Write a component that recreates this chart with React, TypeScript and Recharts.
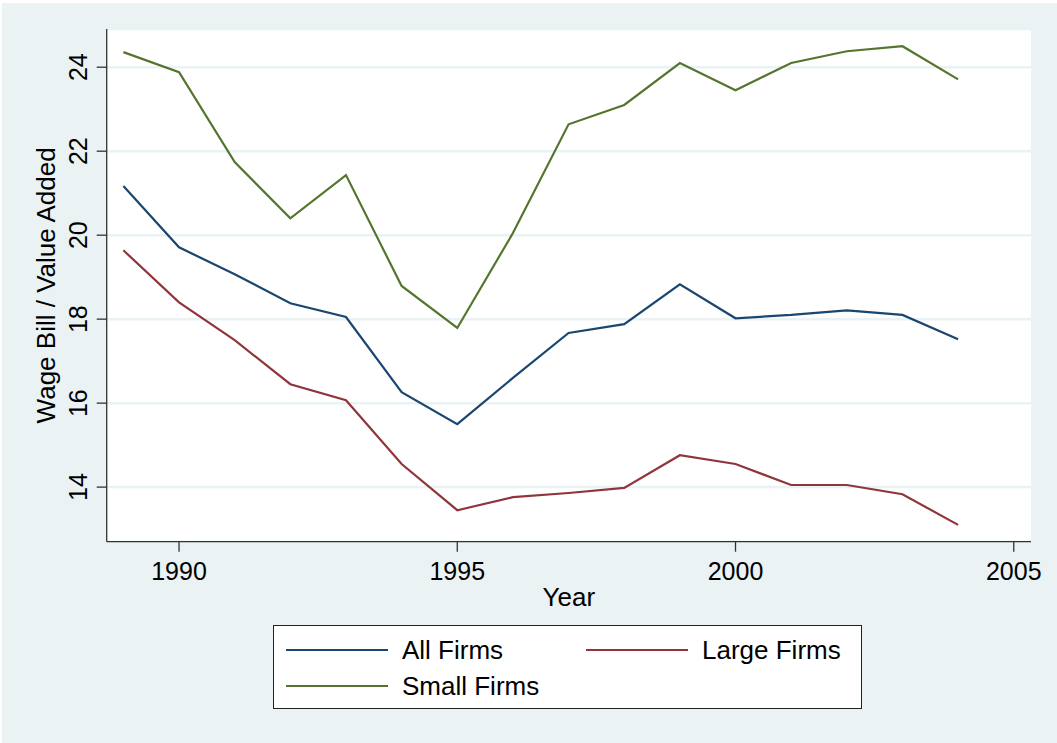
import React from 'react';
import { LineChart, Line, XAxis, YAxis, CartesianGrid } from 'recharts';

const years = [1989, 1990, 1991, 1992, 1993, 1994, 1995, 1996, 1997, 1998, 1999, 2000, 2001, 2002, 2003, 2004];
const allFirms = [21.17, 19.71, 19.07, 18.38, 18.05, 16.26, 15.5, 16.6, 17.67, 17.88, 18.83, 18.02, 18.1, 18.21, 18.1, 17.52];
const largeFirms = [19.64, 18.4, 17.5, 16.45, 16.07, 14.55, 13.45, 13.76, 13.86, 13.98, 14.76, 14.55, 14.05, 14.05, 13.83, 13.1];
const smallFirms = [24.36, 23.88, 21.74, 20.4, 21.43, 18.79, 17.79, 20.05, 22.64, 23.1, 24.1, 23.45, 24.1, 24.38, 24.5, 23.71];

const yTicks = [14, 16, 18, 20, 22, 24];
const xTicks = [1990, 1995, 2000, 2005];

const series = [
  { key: 'all', name: 'All Firms', color: '#1A476F', values: allFirms },
  { key: 'large', name: 'Large Firms', color: '#90353B', values: largeFirms },
  { key: 'small', name: 'Small Firms', color: '#55752F', values: smallFirms },
];

const chartData = years.map((year, i) => ({
  year,
  all: allFirms[i],
  large: largeFirms[i],
  small: smallFirms[i],
}));

const FONT = '"Liberation Sans", Arial, sans-serif';

const YTick = (props: any) => {
  const { x, y, payload } = props;
  return (
    <g transform={`translate(${x},${y})`}>
      <text transform="rotate(-90)" textAnchor="middle" dy={-10} fontSize={25} fill="#000" fontFamily={FONT}>
        {payload.value}
      </text>
    </g>
  );
};

const YLabel = (props: any) => {
  const vb = props.viewBox;
  const cy = vb.y + vb.height / 2;
  return (
    <text transform={`translate(55,${cy}) rotate(-90)`} textAnchor="middle" fontSize={26} fill="#000" fontFamily={FONT}>
      Wage Bill / Value Added
    </text>
  );
};

const legendPos = [
  { left: 286, top: 650 },
  { left: 586, top: 650 },
  { left: 286, top: 686 },
];

export default function App() {
  return (
    <div style={{ position: 'absolute', left: 0, top: 0, width: 1057, height: 743, background: '#fff' }}>
      <div style={{ position: 'absolute', left: 2, top: 3, width: 1055, height: 740, background: '#EAF2F3' }} />
      <div style={{ position: 'absolute', left: 0, top: 0 }}>
        <LineChart
          width={1057}
          height={743}
          data={chartData}
          margin={{ top: 29, right: 26, bottom: 136.3, left: 26.7 }}
        >
          <CartesianGrid vertical={false} fill="#fff" stroke="#EAF2F3" strokeWidth={2.5} />
          <XAxis
            dataKey="year"
            type="number"
            domain={[1988.7, 2005.31]}
            ticks={xTicks}
            allowDataOverflow
            height={65}
            tickSize={10}
            tickMargin={11}
            stroke="#333"
            strokeWidth={1.3}
            tick={{ fontSize: 25, fill: '#000', fontFamily: FONT }}
            label={{ value: 'Year', position: 'insideBottom', offset: 1, fontSize: 26, fill: '#000', fontFamily: FONT }}
          />
          <YAxis
            type="number"
            domain={[12.7, 24.91]}
            ticks={yTicks}
            allowDataOverflow
            width={80}
            tickSize={10}
            tickMargin={0}
            stroke="#333"
            strokeWidth={1.3}
            tick={<YTick />}
            label={<YLabel />}
          />
          {series.map((s) => (
            <Line
              key={s.key}
              type="linear"
              dataKey={s.key}
              name={s.name}
              stroke={s.color}
              strokeWidth={2.2}
              dot={false}
              isAnimationActive={false}
            />
          ))}
        </LineChart>
      </div>
      <div
        style={{
          position: 'absolute',
          left: 273,
          top: 625,
          width: 587,
          height: 82,
          background: '#fff',
          border: '1px solid #222',
        }}
      />
      {series.map((s, i) => (
        <div key={s.key}>
          <div
            style={{
              position: 'absolute',
              left: legendPos[i].left,
              top: legendPos[i].top - 1,
              width: 102,
              height: 2.2,
              background: s.color,
            }}
          />
          <div
            style={{
              position: 'absolute',
              left: legendPos[i].left + 116,
              top: legendPos[i].top - 15,
              fontSize: 26,
              lineHeight: '30px',
              fontFamily: FONT,
              color: '#000',
              whiteSpace: 'nowrap',
            }}
          >
            {s.name}
          </div>
        </div>
      ))}
    </div>
  );
}
